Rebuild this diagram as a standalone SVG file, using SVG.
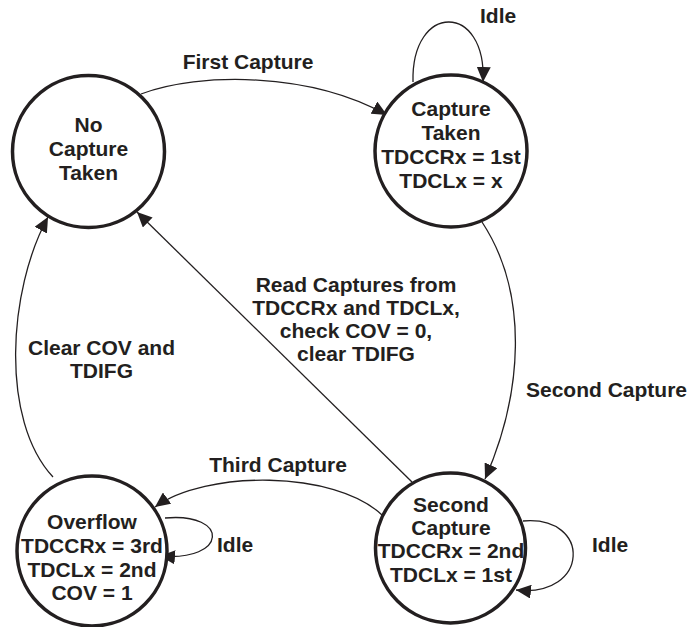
<svg xmlns="http://www.w3.org/2000/svg" width="689" height="627" viewBox="0 0 689 627">
<style>
.node{fill:#fff;stroke:#231f20;stroke-width:3.5}
.t{font-family:"Liberation Sans",Arial,sans-serif;font-weight:bold;font-size:21px;fill:#231f20;text-anchor:middle}
.s{font-family:"Liberation Sans",Arial,sans-serif;font-weight:bold;font-size:21px;fill:#231f20;text-anchor:start}
.e{fill:none;stroke:#231f20;stroke-width:1.3}
</style>
<defs>
<marker id="ah" markerUnits="userSpaceOnUse" markerWidth="15" markerHeight="14" refX="15" refY="7" orient="auto">
<path d="M0,0 L15,7 L0,14 z" fill="#231f20"/>
</marker>
</defs>
<rect width="689" height="627" fill="#fff"/>
<g id="edges">
<path class="e" d="M141,94 C200,72 310,72 387,115" marker-end="url(#ah)"/>
<path class="e" d="M413,82 C411,2 487,2 483,82" marker-end="url(#ah)"/>
<path class="e" d="M482,222 C530,295 522,395 485,479" marker-end="url(#ah)"/>
<path class="e" d="M412,482 L137,212" marker-end="url(#ah)"/>
<path class="e" d="M382,515 C335,470 205,470 155,507" marker-end="url(#ah)"/>
<path class="e" d="M165,518 C230,512 228,562 160,556" marker-end="url(#ah)"/>
<path class="e" d="M523,521 C592,515 590,598 516,590" marker-end="url(#ah)"/>
<path class="e" d="M53,477 C0,420 8,290 48,217" marker-end="url(#ah)"/>
<text class="t" x="248" y="69">First Capture</text>
<text class="s" x="480" y="23">Idle</text>
<text class="s" x="526" y="397">Second Capture</text>
<text class="t" x="356" y="292">Read Captures from</text>
<text class="t" x="356" y="315">TDCCRx and TDCLx,</text>
<text class="t" x="356" y="338">check COV = 0,</text>
<text class="t" x="356" y="361">clear TDIFG</text>
<text class="t" x="101.5" y="355">Clear COV and</text>
<text class="t" x="101.5" y="378">TDIFG</text>
<text class="t" x="278" y="472">Third Capture</text>
<text class="s" x="217" y="552">Idle</text>
<text class="s" x="592" y="552">Idle</text>
</g>
<g id="no-capture">
<circle class="node" cx="88.5" cy="151.5" r="76"/>
<text class="t" x="88.5" y="132">No</text>
<text class="t" x="88.5" y="156">Capture</text>
<text class="t" x="88.5" y="179.5">Taken</text>
</g>
<g id="capture-taken">
<circle class="node" cx="451" cy="151" r="76"/>
<text class="t" x="451" y="116">Capture</text>
<text class="t" x="451" y="140">Taken</text>
<text class="t" x="451" y="164">TDCCRx = 1st</text>
<text class="t" x="451" y="188">TDCLx = x</text>
</g>
<g id="overflow">
<circle class="node" cx="92" cy="551" r="75"/>
<text class="t" x="92" y="529">Overflow</text>
<text class="t" x="92" y="553">TDCCRx = 3rd</text>
<text class="t" x="92" y="577">TDCLx = 2nd</text>
<text class="t" x="92" y="600">COV = 1</text>
</g>
<g id="second-capture">
<circle class="node" cx="450.5" cy="548" r="75"/>
<text class="t" x="451" y="511.5">Second</text>
<text class="t" x="451" y="535">Capture</text>
<text class="t" x="451" y="558">TDCCRx = 2nd</text>
<text class="t" x="451" y="582">TDCLx = 1st</text>
</g>
</svg>
